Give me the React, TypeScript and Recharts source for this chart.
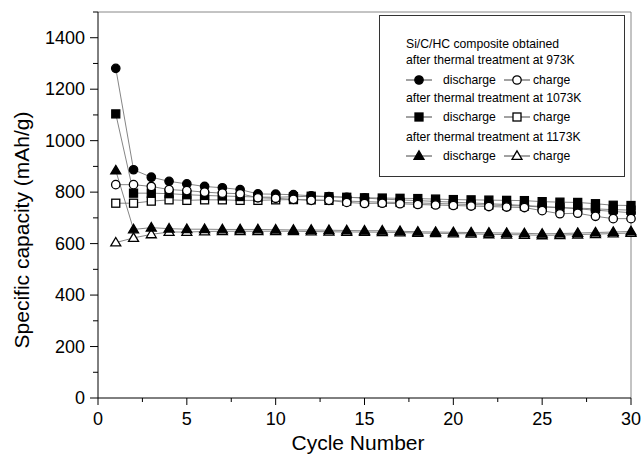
import React from 'react';
import { LineChart, Line, XAxis, YAxis, ReferenceLine, Label } from 'recharts';

const cycles = [1, 2, 3, 4, 5, 6, 7, 8, 9, 10, 11, 12, 13, 14, 15, 16, 17, 18, 19, 20, 21, 22, 23, 24, 25, 26, 27, 28, 29, 30];
const discharge973 = [1281, 887, 858, 842, 832, 822, 817, 810, 793, 792, 790, 786, 783, 780, 777, 773, 770, 767, 764, 761, 758, 755, 752, 748, 744, 740, 735, 730, 725, 720];
const charge973 = [829, 829, 822, 810, 806, 800, 796, 794, 778, 776, 772, 768, 768, 760, 756, 757, 755, 752, 750, 748, 746, 744, 742, 740, 728, 716, 718, 706, 697, 697];
const discharge1073 = [1104, 796, 796, 794, 790, 787, 785, 783, 781, 780, 782, 784, 782, 780, 778, 777, 776, 775, 773, 771, 770, 769, 768, 767, 763, 761, 760, 755, 749, 748];
const charge1073 = [757, 757, 765, 770, 768, 770, 770, 768, 768, 770, 771, 770, 768, 765, 763, 761, 760, 758, 756, 754, 752, 750, 748, 746, 742, 740, 738, 735, 732, 730];
const discharge1173 = [884, 655, 662, 658, 656, 656, 655, 655, 655, 654, 653, 653, 652, 651, 650, 650, 648, 646, 645, 644, 643, 642, 641, 640, 638, 639, 641, 643, 645, 647];
const charge1173 = [604, 622, 636, 645, 645, 647, 648, 648, 648, 648, 648, 647, 646, 645, 645, 644, 643, 641, 640, 639, 638, 636, 635, 634, 632, 633, 635, 637, 639, 641];

const yTicks = [0, 100, 200, 300, 400, 500, 600, 700, 800, 900, 1000, 1100, 1200, 1300, 1400, 1500];
const xTicks = [0, 2.5, 5, 7.5, 10, 12.5, 15, 17.5, 20, 22.5, 25, 27.5, 30];

const data = cycles.map((c, i) => ({
  cycle: c,
  d973: discharge973[i],
  c973: charge973[i],
  d1073: discharge1073[i],
  c1073: charge1073[i],
  d1173: discharge1173[i],
  c1173: charge1173[i],
}));

const FONT = '"Liberation Sans", Arial, Helvetica, sans-serif';

type Shape = 'circle' | 'square' | 'triangle';

function drawShape(shape: Shape, filled: boolean, cx: number, cy: number, key?: any) {
  const fill = filled ? '#000' : '#fff';
  const sw = 1.3;
  if (shape === 'circle') return <circle key={key} cx={cx} cy={cy} r={4.2} fill={fill} stroke="#000" strokeWidth={sw} />;
  if (shape === 'square') return <rect key={key} x={cx - 4} y={cy - 4} width={8} height={8} fill={fill} stroke="#000" strokeWidth={sw} />;
  const h = 8.5;
  const w = 10;
  return (
    <polygon
      key={key}
      points={`${cx},${cy - h * 0.6} ${cx + w / 2},${cy + h * 0.4} ${cx - w / 2},${cy + h * 0.4}`}
      fill={fill}
      stroke="#000"
      strokeWidth={sw}
      strokeLinejoin="miter"
    />
  );
}

const makeDot = (shape: Shape, filled: boolean) => (props: any) => {
  const { cx, cy, index } = props;
  if (cx == null || cy == null) return <g key={`e${index}`} />;
  return drawShape(shape, filled, cx, cy, `${shape}${filled}${index}`);
};

const YTick = (props: any) => {
  const { x, y, payload } = props;
  const v = payload.value;
  const major = v % 200 === 0 && v !== 1500;
  const len = major ? 8 : 5;
  return (
    <g>
      <line x1={x - len} y1={y} x2={x} y2={y} stroke="#000" strokeWidth={1} />
      {major && (
        <text x={x - 13} y={y} textAnchor="end" dominantBaseline="central" fontFamily={FONT} fontSize={18} fill="#000">
          {v}
        </text>
      )}
    </g>
  );
};

const XTick = (props: any) => {
  const { x, y, payload } = props;
  const v = payload.value;
  const major = v % 5 === 0;
  const len = major ? 7 : 4;
  return (
    <g>
      <line x1={x} y1={y} x2={x} y2={y + len} stroke="#000" strokeWidth={1} />
      {major && (
        <text x={x} y={y + 21} textAnchor="middle" dominantBaseline="central" fontFamily={FONT} fontSize={18} fill="#000">
          {v}
        </text>
      )}
    </g>
  );
};

const LegendSym = ({ shape, filled }: { shape: Shape; filled: boolean }) => (
  <svg width={26} height={14} style={{ display: 'block' }}>
    <line x1={0} y1={7} x2={26} y2={7} stroke="#444" strokeWidth={1} />
    {drawShape(shape, filled, 13, 7)}
  </svg>
);

const SymRow = ({ shape, top }: { shape: Shape; top: number }) => (
  <div style={{ position: 'absolute', left: 26, top, width: 220, whiteSpace: 'nowrap', height: 16, lineHeight: '16px' }}>
    <span style={{ position: 'absolute', left: 0, top: 1 }}><LegendSym shape={shape} filled={true} /></span>
    <span style={{ position: 'absolute', left: 37, top: 0 }}>discharge</span>
    <span style={{ position: 'absolute', left: 98, top: 1 }}><LegendSym shape={shape} filled={false} /></span>
    <span style={{ position: 'absolute', left: 127, top: 0 }}>charge</span>
  </div>
);

const TextRow = ({ text, top }: { text: string; top: number }) => (
  <div style={{ position: 'absolute', left: 26, top, whiteSpace: 'nowrap', height: 16, lineHeight: '16px' }}>{text}</div>
);

export default function App() {
  return (
    <div style={{ position: 'absolute', left: 0, top: 0, width: 643, height: 458, background: '#fff' }}>
      <LineChart width={643} height={458} data={data} margin={{ top: 12, right: 12, left: 0, bottom: 0 }}>
        <XAxis
          dataKey="cycle"
          type="number"
          domain={[0, 30]}
          ticks={xTicks}
          interval={0}
          height={60}
          tickLine={false}
          tickSize={0}
          tickMargin={0}
          tick={<XTick />}
          axisLine={{ stroke: '#000', strokeWidth: 1 }}
        >
          <Label
            content={() => (
              <text x={358} y={442} textAnchor="middle" dominantBaseline="central" fontFamily={FONT} fontSize={21} fill="#000">
                Cycle Number
              </text>
            )}
          />
        </XAxis>
        <YAxis
          type="number"
          domain={[0, 1500]}
          ticks={yTicks}
          interval={0}
          width={98}
          tickLine={false}
          tickSize={0}
          tickMargin={0}
          tick={<YTick />}
          axisLine={{ stroke: '#000', strokeWidth: 1 }}
        >
          <Label
            content={() => (
              <text
                x={21}
                y={230}
                transform="rotate(-90, 21, 230)"
                textAnchor="middle"
                dominantBaseline="central"
                fontFamily={FONT}
                fontSize={21}
                fill="#000"
              >
                Specific capacity (mAh/g)
              </text>
            )}
          />
        </YAxis>
        <ReferenceLine y={1500} stroke="#888" strokeWidth={1} />
        <ReferenceLine x={30} stroke="#888" strokeWidth={1} />
        <Line dataKey="c1173" stroke="#777" strokeWidth={0.9} dot={makeDot('triangle', false)} activeDot={false} isAnimationActive={false} />
        <Line dataKey="d1173" stroke="#777" strokeWidth={0.9} dot={makeDot('triangle', true)} activeDot={false} isAnimationActive={false} />
        <Line dataKey="c1073" stroke="#777" strokeWidth={0.9} dot={makeDot('square', false)} activeDot={false} isAnimationActive={false} />
        <Line dataKey="d973" stroke="#777" strokeWidth={0.9} dot={makeDot('circle', true)} activeDot={false} isAnimationActive={false} />
        <Line dataKey="d1073" stroke="#777" strokeWidth={0.9} dot={makeDot('square', true)} activeDot={false} isAnimationActive={false} />
        <Line dataKey="c973" stroke="#777" strokeWidth={0.9} dot={makeDot('circle', false)} activeDot={false} isAnimationActive={false} />
      </LineChart>
      <div
        style={{
          position: 'absolute',
          left: 379,
          top: 15,
          width: 246,
          height: 162,
          border: '1px solid #333',
          background: '#fff',
          fontFamily: FONT,
          fontSize: 12.2,
          color: '#000',
          boxSizing: 'border-box',
        }}
      >
        <TextRow text="Si/C/HC composite obtained" top={20} />
        <TextRow text="after thermal treatment at 973K" top={36} />
        <SymRow shape="circle" top={56} />
        <TextRow text="after thermal treatment at 1073K" top={74} />
        <SymRow shape="square" top={93} />
        <TextRow text="after thermal treatment at 1173K" top={113} />
        <SymRow shape="triangle" top={132} />
      </div>
    </div>
  );
}
